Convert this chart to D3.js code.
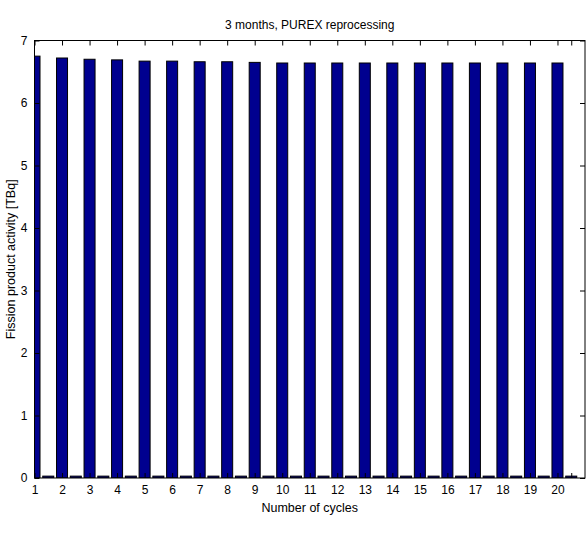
<!DOCTYPE html>
<html>
<head>
<meta charset="utf-8">
<script src="https://cdn.jsdelivr.net/npm/d3@7"></script>
<style>
body { margin: 0; background: #fff; }
text { font-family: "Liberation Sans", Arial, sans-serif; }
</style>
</head>
<body>
<div id="chart"></div>
<script>
// bar positions (cycle number and the half step after it)
var cycles = [1,2,3,4,5,6,7,8,9,10,11,12,13,14,15,16,17,18,19,20];
var afterCycle = [1.5,2.5,3.5,4.5,5.5,6.5,7.5,8.5,9.5,10.5,11.5,12.5,13.5,14.5,15.5,16.5,17.5,18.5,19.5,20.5];
// activity [TBq]
var activityCycle = [6.75,6.72,6.70,6.69,6.67,6.67,6.66,6.66,6.65,6.64,6.64,6.64,6.64,6.64,6.64,6.64,6.64,6.64,6.64,6.64];
var activityAfter = [0.03,0.03,0.03,0.03,0.03,0.03,0.03,0.03,0.03,0.03,0.03,0.03,0.03,0.03,0.03,0.03,0.03,0.03,0.03,0.03];
var xTicks = [1,2,3,4,5,6,7,8,9,10,11,12,13,14,15,16,17,18,19,20,20.5];
var xTickLabels = ["1","2","3","4","5","6","7","8","9","10","11","12","13","14","15","16","17","18","19","20",""];
var yTicks = [0,1,2,3,4,5,6,7];

var margin = {top: 40.5, right: 3, bottom: 57, left: 34.5};
var width = 588 - margin.left - margin.right;
var height = 535 - margin.top - margin.bottom;

var svg = d3.select("#chart").append("svg")
    .attr("width", 588)
    .attr("height", 535);

var g = svg.append("g")
    .attr("transform", "translate(" + margin.left + "," + margin.top + ")");

var x = d3.scaleLinear().domain([1, 21]).range([0, width]);
var y = d3.scaleLinear().domain([0, 7]).range([height, 0]);

var bars = [];
cycles.forEach(function(c, i){
    bars.push({x: c, v: activityCycle[i]});
    bars.push({x: afterCycle[i], v: activityAfter[i]});
});

g.append("clipPath").attr("id", "clip")
  .append("rect").attr("width", width).attr("height", height);

var bw = 0.4;
g.append("g").attr("clip-path", "url(#clip)")
  .selectAll(".bar")
  .data(bars)
  .enter()
  .append("rect")
    .attr("class", "bar")
    .attr("x", function(d){ return x(d.x - bw/2); })
    .attr("y", function(d){ return y(d.v); })
    .attr("width", x(1 + bw) - x(1))
    .attr("height", function(d){ return y(0) - y(d.v); })
    .attr("fill", "#00008f")
    .attr("stroke", "#000")
    .attr("stroke-width", 1);

function styleAxis(sel){
    sel.select(".domain").remove();
    sel.selectAll("line").attr("stroke", "#000");
    sel.selectAll("text").attr("font-size", "12px").attr("fill", "#000")
       .style("font-family", "'Liberation Sans', Arial, sans-serif");
}

var tl = 5;
g.append("g")
  .attr("transform", "translate(0," + height + ")")
  .call(d3.axisBottom(x).tickValues(xTicks).tickSize(-tl).tickPadding(7)
        .tickFormat(function(d, i){ return xTickLabels[i]; }))
  .call(styleAxis);
g.append("g")
  .call(d3.axisTop(x).tickValues(xTicks).tickSize(-tl).tickFormat(""))
  .call(styleAxis);
g.append("g")
  .call(d3.axisLeft(y).tickValues(yTicks).tickSize(-tl).tickPadding(7).tickFormat(d3.format("d")))
  .call(styleAxis);
g.append("g")
  .attr("transform", "translate(" + width + ",0)")
  .call(d3.axisRight(y).tickValues(yTicks).tickSize(-tl).tickFormat(""))
  .call(styleAxis);

g.append("rect")
  .attr("width", width).attr("height", height)
  .attr("fill", "none").attr("stroke", "#000").attr("stroke-width", 1);

svg.append("text")
  .attr("x", margin.left + width/2).attr("y", 29)
  .attr("text-anchor", "middle").attr("font-size", "12px")
  .text("3 months, PUREX reprocessing");

svg.append("text")
  .attr("x", margin.left + width/2).attr("y", 512)
  .attr("text-anchor", "middle").attr("font-size", "12.5px")
  .text("Number of cycles");

svg.append("text")
  .attr("transform", "translate(15," + (margin.top + height/2) + ") rotate(-90)")
  .attr("text-anchor", "middle").attr("font-size", "12.5px")
  .text("Fission product activity [TBq]");
</script>
</body>
</html>
